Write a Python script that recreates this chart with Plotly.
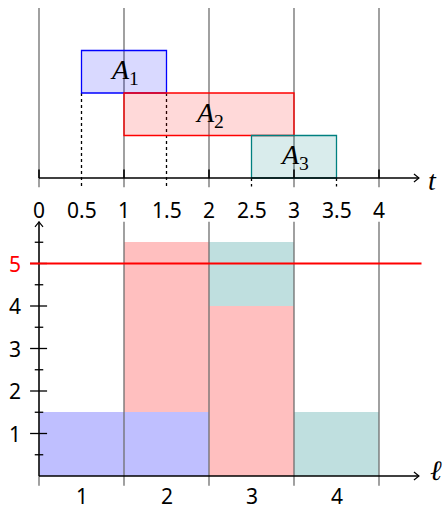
import plotly.graph_objects as go

# ---- data ----
task_names = ["A<sub>1</sub>", "A<sub>2</sub>", "A<sub>3</sub>"]
task_start = [0.5, 1.0, 2.5]
task_end = [1.5, 3.0, 3.5]
task_level = [2, 1, 0]
task_line = ["#0000ff", "#ff0000", "#008080"]
task_fill = ["rgba(0,0,255,0.15)", "rgba(255,0,0,0.15)", "rgba(0,128,128,0.15)"]

t_ticks = [0, 0.5, 1, 1.5, 2, 2.5, 3, 3.5, 4]
t_tick_labels = ["0", "0.5", "1", "1.5", "2", "2.5", "3", "3.5", "4"]

bins = [1, 2, 3, 4]
load_blue = [1.5, 1.5, 0, 0]
load_red = [0, 4, 4, 0]
load_teal = [0, 0, 1.5, 1.5]
y_ticks = [1, 2, 3, 4, 5]
capacity = 5

# ---- geometry (axis units) ----
PX_X = 85.0
PX_Y = 42.5
W, H = 443, 509
x0px = 39
bot0px = 476
top0px = 178

xr = [-x0px / PX_X, (W - x0px) / PX_X]
yr = [-(H - bot0px) / PX_Y, bot0px / PX_Y]
y2r = [-(H - top0px) / PX_Y, top0px / PX_Y]

fig = go.Figure()
bin_x = [b - 0.5 for b in bins]
for vals, col in [(load_blue, "#bfbfff"), (load_red, "#ffbfbf"), (load_teal, "#bfdfdf")]:
    fig.add_trace(go.Bar(x=bin_x, y=vals, width=1, marker=dict(color=col, line=dict(width=0)),
                         xaxis="x", yaxis="y", showlegend=False, hoverinfo="skip"))

shapes = []
gray = "#6e6e6e"
tmax = 4.47
# top panel vertical lines
for t in range(0, 5):
    shapes.append(dict(type="line", xref="x", yref="y2", x0=t, x1=t, y0=-0.22, y1=4.0,
                       line=dict(color=gray, width=1.3)))
# bottom panel vertical lines
for t in range(0, 5):
    shapes.append(dict(type="line", xref="x", yref="y", x0=t, x1=t, y0=-0.23, y1=5.98,
                       line=dict(color=gray, width=1.3)))
# dotted lines
for s, e, lv in zip(task_start, task_end, task_level):
    for t in (s, e):
        if t != int(t):
            shapes.append(dict(type="line", xref="x", yref="y2", x0=t, x1=t, y0=lv, y1=-0.2,
                               line=dict(color="black", width=1.3, dash="dot")))
# boxes
for s, e, lv, lc, fc in zip(task_start, task_end, task_level, task_line, task_fill):
    shapes.append(dict(type="rect", xref="x", yref="y2", x0=s, x1=e, y0=lv, y1=lv + 1,
                       line=dict(color=lc, width=1.3), fillcolor=fc))
# top axis + ticks
shapes.append(dict(type="line", xref="x", yref="y2", x0=0, x1=tmax, y0=0, y1=0,
                   line=dict(color="black", width=1.3)))
for t in range(0, 5):
    shapes.append(dict(type="line", xref="x", yref="y2", x0=t, x1=t, y0=0, y1=0.2,
                       line=dict(color="black", width=1.6)))
# bottom axes
shapes.append(dict(type="line", xref="x", yref="y", x0=0, x1=tmax, y0=0, y1=0,
                   line=dict(color="black", width=1.3)))
shapes.append(dict(type="line", xref="x", yref="y", x0=0, x1=0, y0=0, y1=5.98,
                   line=dict(color="black", width=1.3)))
for v in y_ticks:
    shapes.append(dict(type="line", xref="x", yref="y", x0=-0.105, x1=0.095, y0=v, y1=v,
                       line=dict(color="black", width=1.3)))
for v in [0.5, 1.5, 2.5, 3.5, 4.5, 5.5]:
    shapes.append(dict(type="line", xref="x", yref="y", x0=-0.05, x1=0.05, y0=v, y1=v,
                       line=dict(color="black", width=1.3)))
# arrowheads
ax_dx, ax_dy = 5 / PX_X, 4 / PX_Y
for yref in ("y", "y2"):
    shapes.append(dict(type="path", xref="x", yref=yref,
                       path=f"M {tmax-ax_dx} {ax_dy} L {tmax} 0 L {tmax-ax_dx} {-ax_dy}",
                       line=dict(color="black", width=1.2)))
shapes.append(dict(type="path", xref="x", yref="y",
                   path=f"M {-4/PX_X} {5.98-5/PX_Y} L 0 5.98 L {4/PX_X} {5.98-5/PX_Y}",
                   line=dict(color="black", width=1.2)))
# capacity line
shapes.append(dict(type="line", xref="x", yref="y", x0=-0.106, x1=4.5, y0=capacity, y1=capacity,
                   line=dict(color="#ff0000", width=2)))

ann = []
for name, s, e, lv in zip(task_names, task_start, task_end, task_level):
    ann.append(dict(x=(s + e) / 2, y=lv + 0.5, xref="x", yref="y2", text="<i>" + name[0] + "</i>" + name[1:],
                    showarrow=False, font=dict(family="Liberation Serif", size=28, color="black")))
sans = dict(family="Noto Sans", size=21, color="black")
for t, lab in zip(t_ticks, t_tick_labels):
    ann.append(dict(x=t, y=-0.75, xref="x", yref="y2", text=lab, showarrow=False, font=sans))
for b in bins:
    ann.append(dict(x=b - 0.5, y=-0.47, xref="x", yref="y", text=str(b), showarrow=False, font=sans))
for v in y_ticks:
    ann.append(dict(x=-0.19, y=v, xref="x", yref="y", text=str(v), showarrow=False, xanchor="right",
                    font=dict(family="Noto Sans", size=21, color="#ff0000" if v == capacity else "black")))
ann.append(dict(x=4.635, y=-0.05, xref="x", yref="y2", text="<i>t</i>", showarrow=False, xanchor="center",
                font=dict(family="Liberation Serif", size=28, color="black")))
ann.append(dict(x=4.67, y=0.12, xref="x", yref="y", text="<i>ℓ</i>", showarrow=False, xanchor="center",
                font=dict(family="Liberation Serif", size=28, color="black")))

fig.update_layout(
    width=W, height=H, margin=dict(l=0, r=0, t=0, b=0),
    plot_bgcolor="white", paper_bgcolor="white", barmode="stack", bargap=0,
    xaxis=dict(range=xr, visible=False, fixedrange=True),
    yaxis=dict(range=yr, visible=False, domain=[0, 1]),
    yaxis2=dict(range=y2r, visible=False, overlaying="y", domain=[0, 1]),
    shapes=shapes, annotations=ann, showlegend=False,
)
fig.write_html("out.html", config={"displayModeBar": False},
               post_script="document.body.style.margin='0';document.body.style.overflow='hidden';")
